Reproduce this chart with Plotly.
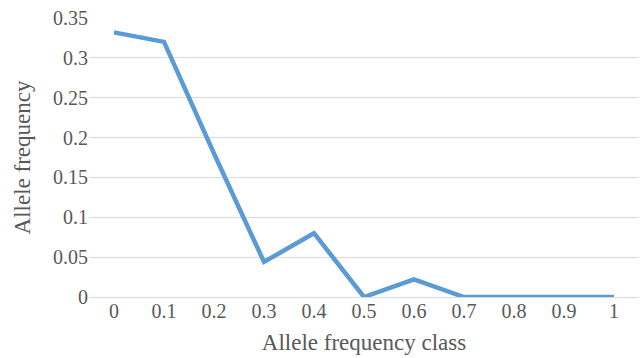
import plotly.graph_objects as go

categories = ["0", "0.1", "0.2", "0.3", "0.4", "0.5", "0.6", "0.7", "0.8", "0.9", "1"]
values = [0.332, 0.320, 0.180, 0.044, 0.080, 0.0, 0.022, 0.0, 0.0, 0.0, 0.0]
y_ticks = [0, 0.05, 0.1, 0.15, 0.2, 0.25, 0.3, 0.35]
y_tick_text = ["0", "0.05", "0.1", "0.15", "0.2", "0.25", "0.3", "0.35"]

fig = go.Figure()
fig.add_trace(go.Scatter(
    x=list(range(len(categories))), y=values, mode="lines",
    line=dict(color="#5B9BD5", width=4.5), hoverinfo="skip", showlegend=False,
))

font = "Liberation Serif"
fig.update_layout(
    width=641, height=358,
    margin=dict(l=89, r=2, t=18, b=61),
    paper_bgcolor="white", plot_bgcolor="white",
    font=dict(family=font, color="#595959", size=20),
    xaxis=dict(
        range=[-0.5, len(categories) - 0.5],
        tickmode="array", tickvals=list(range(len(categories))), ticktext=categories,
        showgrid=False, zeroline=False, showline=False, ticks="",
        tickfont=dict(size=20, family=font, color="#595959"),
        title=dict(text="Allele frequency class", font=dict(size=23, family=font, color="#595959"), standoff=12),
    ),
    yaxis=dict(
        range=[0, 0.35],
        tickmode="array", tickvals=y_ticks, ticktext=y_tick_text,
        showgrid=True, gridcolor="#D9D9D9", gridwidth=1.3,
        zeroline=True, zerolinecolor="#D9D9D9", zerolinewidth=1.3,
        showline=False, ticks="", ticklen=0,
        tickfont=dict(size=20, family=font, color="#595959"),
        title=dict(text="Allele frequency", font=dict(size=23, family=font, color="#595959"), standoff=15),
    ),
)
fig.write_html("out.html", config={"displayModeBar": False},
               post_script="document.body.style.margin='0';")
